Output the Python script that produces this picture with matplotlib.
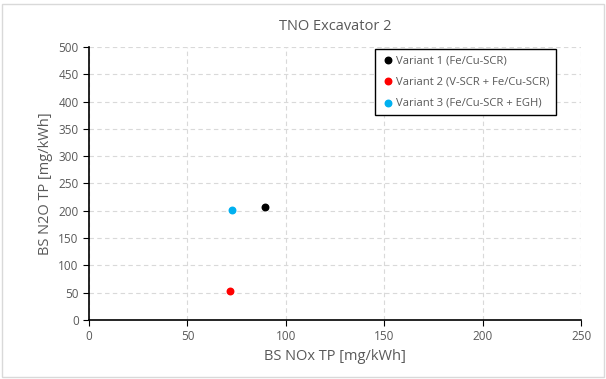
import matplotlib.pyplot as plt
from matplotlib.patches import Rectangle

plt.rcParams['font.family'] = ['Open Sans', 'DejaVu Sans']

variants = ['Variant 1 (Fe/Cu-SCR)', 'Variant 2 (V-SCR + Fe/Cu-SCR)', 'Variant 3 (Fe/Cu-SCR + EGH)']
nox = [89.5, 71.5, 72.5]
n2o = [207, 53, 202]
colors = ['#000000', '#ff0000', '#00b0f0']

grey = '#595959'

fig = plt.figure(figsize=(6.06, 3.79), dpi=100)
fig.patches.append(Rectangle((0.004, 0.005), 0.992, 0.985, transform=fig.transFigure,
                             fill=False, edgecolor='#d9d9d9', linewidth=1))
ax = fig.add_axes([0.147, 0.156, 0.812, 0.72])

for x, y, c, lab in zip(nox, n2o, colors, variants):
    ax.scatter(x, y, s=22, color=c, label=lab, zorder=3)

ax.set_xlim(0, 250)
ax.set_ylim(0, 500)
ax.set_xticks(range(0, 251, 50))
ax.set_yticks(range(0, 501, 50))
ax.grid(True, color='#d9d9d9', linestyle=(0, (4, 3)), linewidth=0.8)
ax.set_axisbelow(True)
for s in ['top', 'right']:
    ax.spines[s].set_visible(False)
for s in ['left', 'bottom']:
    ax.spines[s].set_color('black')
    ax.spines[s].set_linewidth(1.2)
ax.tick_params(colors=grey, labelsize=8.5, length=4, direction='out')
ax.tick_params(axis='both', color='black')

ax.set_title('TNO Excavator 2', fontsize=10.5, color=grey, pad=12)
ax.set_xlabel('BS NOx TP [mg/kWh]', fontsize=10.5, color=grey)
ax.set_ylabel('BS N2O TP [mg/kWh]', fontsize=10.5, color=grey)

leg = ax.legend(loc='upper right', bbox_to_anchor=(0.96, 1.015), fontsize=8.1,
                handletextpad=0.1, handlelength=1.1, fancybox=False, framealpha=1,
                borderpad=0.6, labelspacing=0.9)
leg.get_frame().set_edgecolor('black')
leg.get_frame().set_linewidth(1)
for t in leg.get_texts():
    t.set_color(grey)

fig.savefig('out.png', dpi=100)
